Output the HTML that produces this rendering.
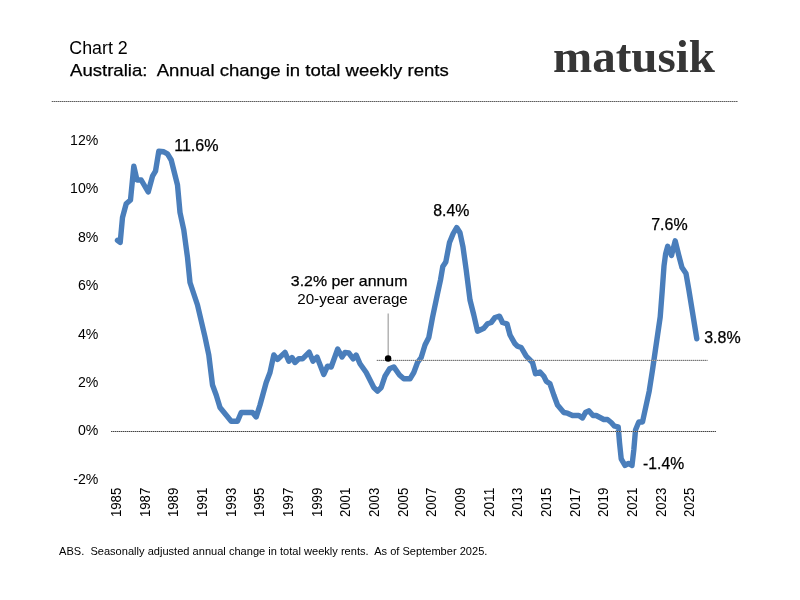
<!DOCTYPE html>
<html><head><meta charset="utf-8"><title>Chart 2</title>
<style>
html,body{margin:0;padding:0;background:#fff;}
body{width:800px;height:600px;overflow:hidden;}
svg{display:block;}
text{font-family:"Liberation Sans", sans-serif;fill:#000;}
.m{stroke:#000;stroke-width:0.25px;}
</style></head><body>
<svg width="800" height="600" viewBox="0 0 800 600">
<rect width="800" height="600" fill="#fff"/>
<text x="69.3" y="54.3" font-size="17.5" textLength="58.5" lengthAdjust="spacingAndGlyphs">Chart 2</text>
<text class="m" x="70" y="76" font-size="17" textLength="378.8" lengthAdjust="spacingAndGlyphs" xml:space="preserve" style="white-space:pre">Australia:  Annual change in total weekly rents</text>
<text x="553" y="71.9" font-size="46" font-weight="bold" style="font-family:'Liberation Serif',serif;fill:#363636" textLength="162" lengthAdjust="spacingAndGlyphs">matusik</text>
<line x1="51.5" y1="101.5" x2="738" y2="101.5" stroke="#a8a8a8" stroke-width="1"/>
<line x1="52" y1="101.5" x2="738" y2="101.5" stroke="#5e5e5e" stroke-width="1" stroke-dasharray="1 1"/>
<line x1="388.2" y1="313.5" x2="388.2" y2="358" stroke="#a8a8a8" stroke-width="1.3"/>
<path d="M117.5,240.3 L120.2,242.5 L122.5,217.5 L126.2,203.8 L130.5,200.0 L133.8,166.2 L137.0,180.0 L141.2,180.0 L148.2,192.0 L152.5,176.2 L155.5,171.2 L158.8,151.2 L163.8,151.8 L167.5,153.8 L171.2,160.0 L177.5,185.0 L180.0,212.5 L183.8,230.0 L187.5,257.5 L190.0,282.5 L197.5,305.0 L205.0,337.0 L208.8,355.0 L212.5,385.0 L216.2,395.0 L220.0,407.5 L231.2,421.2 L237.5,421.2 L241.2,412.5 L252.5,412.5 L256.2,417.0 L260.0,405.0 L266.2,382.5 L270.0,372.5 L273.8,355.0 L277.5,359.5 L285.0,352.4 L288.8,361.2 L292.0,357.5 L295.0,362.5 L298.8,358.8 L302.5,358.8 L309.2,352.2 L313.0,361.2 L317.0,357.0 L323.8,374.5 L327.5,366.2 L331.2,367.0 L337.7,349.0 L342.0,357.0 L345.0,352.5 L348.8,353.0 L353.2,358.8 L356.2,355.0 L360.0,363.8 L366.2,372.5 L373.8,387.5 L377.5,391.2 L381.2,387.5 L385.0,376.2 L389.5,368.8 L393.8,366.9 L399.5,375.0 L403.8,378.8 L410.0,378.8 L413.8,372.5 L417.5,362.5 L421.2,357.5 L425.0,345.0 L428.8,337.5 L432.5,317.5 L437.5,293.8 L440.5,280.0 L442.8,266.5 L445.8,262.0 L449.5,242.5 L453.2,233.5 L456.7,227.5 L460.0,232.8 L463.0,247.0 L466.2,270.0 L470.0,300.0 L473.8,315.0 L477.5,331.2 L483.8,328.2 L487.5,323.8 L491.2,322.5 L495.0,317.5 L499.5,316.2 L502.5,322.5 L507.0,323.8 L510.0,335.0 L515.0,343.8 L517.5,346.2 L521.2,347.5 L526.2,356.2 L532.5,362.5 L535.5,373.8 L540.0,372.0 L543.8,376.2 L546.2,381.2 L550.0,383.8 L553.8,395.0 L557.5,405.0 L563.8,412.5 L567.5,413.2 L572.5,415.5 L578.8,415.5 L582.5,418.0 L585.5,412.5 L588.8,410.8 L593.0,415.5 L596.2,415.5 L600.0,417.5 L603.8,419.5 L607.5,419.5 L611.2,422.5 L614.5,426.2 L618.2,426.8 L619.5,442.5 L621.2,458.8 L625.0,465.5 L628.5,463.4 L632.0,465.5 L633.8,450.0 L635.5,430.0 L638.8,422.0 L642.5,422.0 L646.2,405.0 L649.2,391.2 L652.5,370.0 L655.4,350.0 L660.2,317.0 L662.2,291.0 L664.0,266.0 L665.6,254.0 L667.7,246.3 L671.5,255.5 L675.2,240.8 L679.2,257.0 L682.0,267.6 L686.0,273.5 L688.8,289.5 L696.8,338.8" fill="none" stroke="#4a7ebb" stroke-width="5.4" stroke-linejoin="round" stroke-linecap="round"/>
<line x1="376.5" y1="360.4" x2="707.5" y2="360.4" stroke="#b4b4b4" stroke-width="1"/>
<line x1="377" y1="360.4" x2="707.5" y2="360.4" stroke="#707070" stroke-width="1" stroke-dasharray="1 1"/>
<line x1="111" y1="431.5" x2="716" y2="431.5" stroke="#a4a4a4" stroke-width="1"/>
<line x1="111" y1="431.5" x2="716" y2="431.5" stroke="#444" stroke-width="1" stroke-dasharray="1 1"/>
<circle cx="388.1" cy="358.6" r="3.25" fill="#000"/>
<text transform="translate(98.4,145.0) scale(0.955,1)" text-anchor="end" font-size="14.8">12%</text>
<text transform="translate(98.4,193.4) scale(0.955,1)" text-anchor="end" font-size="14.8">10%</text>
<text transform="translate(98.4,241.8) scale(0.955,1)" text-anchor="end" font-size="14.8">8%</text>
<text transform="translate(98.4,290.2) scale(0.955,1)" text-anchor="end" font-size="14.8">6%</text>
<text transform="translate(98.4,338.6) scale(0.955,1)" text-anchor="end" font-size="14.8">4%</text>
<text transform="translate(98.4,387.0) scale(0.955,1)" text-anchor="end" font-size="14.8">2%</text>
<text transform="translate(98.4,435.4) scale(0.955,1)" text-anchor="end" font-size="14.8">0%</text>
<text transform="translate(98.4,483.8) scale(0.955,1)" text-anchor="end" font-size="14.8">-2%</text>

<text transform="translate(121.1,517) rotate(-90)" font-size="14.4" textLength="29.2" lengthAdjust="spacingAndGlyphs">1985</text>
<text transform="translate(149.8,517) rotate(-90)" font-size="14.4" textLength="29.2" lengthAdjust="spacingAndGlyphs">1987</text>
<text transform="translate(178.4,517) rotate(-90)" font-size="14.4" textLength="29.2" lengthAdjust="spacingAndGlyphs">1989</text>
<text transform="translate(207.0,517) rotate(-90)" font-size="14.4" textLength="29.2" lengthAdjust="spacingAndGlyphs">1991</text>
<text transform="translate(235.7,517) rotate(-90)" font-size="14.4" textLength="29.2" lengthAdjust="spacingAndGlyphs">1993</text>
<text transform="translate(264.4,517) rotate(-90)" font-size="14.4" textLength="29.2" lengthAdjust="spacingAndGlyphs">1995</text>
<text transform="translate(293.0,517) rotate(-90)" font-size="14.4" textLength="29.2" lengthAdjust="spacingAndGlyphs">1997</text>
<text transform="translate(321.6,517) rotate(-90)" font-size="14.4" textLength="29.2" lengthAdjust="spacingAndGlyphs">1999</text>
<text transform="translate(350.3,517) rotate(-90)" font-size="14.4" textLength="29.2" lengthAdjust="spacingAndGlyphs">2001</text>
<text transform="translate(378.9,517) rotate(-90)" font-size="14.4" textLength="29.2" lengthAdjust="spacingAndGlyphs">2003</text>
<text transform="translate(407.6,517) rotate(-90)" font-size="14.4" textLength="29.2" lengthAdjust="spacingAndGlyphs">2005</text>
<text transform="translate(436.2,517) rotate(-90)" font-size="14.4" textLength="29.2" lengthAdjust="spacingAndGlyphs">2007</text>
<text transform="translate(464.9,517) rotate(-90)" font-size="14.4" textLength="29.2" lengthAdjust="spacingAndGlyphs">2009</text>
<text transform="translate(493.5,517) rotate(-90)" font-size="14.4" textLength="29.2" lengthAdjust="spacingAndGlyphs">2011</text>
<text transform="translate(522.2,517) rotate(-90)" font-size="14.4" textLength="29.2" lengthAdjust="spacingAndGlyphs">2013</text>
<text transform="translate(550.9,517) rotate(-90)" font-size="14.4" textLength="29.2" lengthAdjust="spacingAndGlyphs">2015</text>
<text transform="translate(579.5,517) rotate(-90)" font-size="14.4" textLength="29.2" lengthAdjust="spacingAndGlyphs">2017</text>
<text transform="translate(608.1,517) rotate(-90)" font-size="14.4" textLength="29.2" lengthAdjust="spacingAndGlyphs">2019</text>
<text transform="translate(636.8,517) rotate(-90)" font-size="14.4" textLength="29.2" lengthAdjust="spacingAndGlyphs">2021</text>
<text transform="translate(665.5,517) rotate(-90)" font-size="14.4" textLength="29.2" lengthAdjust="spacingAndGlyphs">2023</text>
<text transform="translate(694.1,517) rotate(-90)" font-size="14.4" textLength="29.2" lengthAdjust="spacingAndGlyphs">2025</text>

<text class="m" x="174.2" y="150.5" font-size="15.7" textLength="44.4" lengthAdjust="spacingAndGlyphs">11.6%</text>
<text class="m" x="433.2" y="215.8" font-size="15.7" textLength="36.2" lengthAdjust="spacingAndGlyphs">8.4%</text>
<text class="m" x="651.2" y="229.8" font-size="15.7" textLength="36.4" lengthAdjust="spacingAndGlyphs">7.6%</text>
<text class="m" x="704.2" y="343.2" font-size="15.7" textLength="36.4" lengthAdjust="spacingAndGlyphs">3.8%</text>
<text class="m" x="643.1" y="468.8" font-size="15.7" textLength="41" lengthAdjust="spacingAndGlyphs">-1.4%</text>
<text class="m" x="290.8" y="285.9" font-size="15" textLength="116.6" lengthAdjust="spacingAndGlyphs">3.2% per annum</text>
<text x="297.2" y="304.2" font-size="14.6" textLength="110.6" lengthAdjust="spacingAndGlyphs">20-year average</text>
<text x="59" y="555.4" font-size="11.2" textLength="428.4" lengthAdjust="spacingAndGlyphs" xml:space="preserve" style="white-space:pre">ABS.  Seasonally adjusted annual change in total weekly rents.  As of September 2025.</text>
</svg>
</body></html>
